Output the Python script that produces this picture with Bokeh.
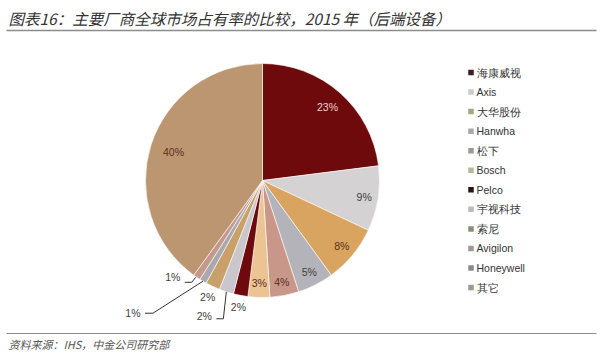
import math
from bokeh.plotting import figure
from bokeh.models import Range1d, Label, ColumnDataSource
from bokeh.core.properties import value
from bokeh.embed import file_html
from bokeh.resources import INLINE

# ---- data ----
companies = ["海康威视", "Axis", "大华股份", "Hanwha", "松下", "Bosch", "Pelco",
             "宇视科技", "索尼", "Avigilon", "Honeywell", "其它"]
shares = [23, 9, 8, 5, 4, 3, 2, 2, 2, 1, 1, 40]
pie_colors = ["#6E0A0C", "#D5D2D4", "#D9A45F", "#B5B3BA", "#C9978A", "#ECC393",
              "#6E0A0E", "#C9C7CB", "#C9A06A", "#ABA9B0", "#C5988C", "#BC9670"]
legend_colors = ["#3A1E22", "#CCCCCC", "#A4A684", "#AAAAAA", "#999999", "#B8B89E",
                 "#2A1418", "#BBBBBB", "#8E8C78", "#999999", "#8A8A8A", "#9A9A88"]
title_text = "图表16：主要厂商全球市场占有率的比较，2015 年（后端设备）"
source_text = "资料来源：IHS，中金公司研究部"

W, H = 600, 353
p = figure(width=W, height=H, output_backend="svg", toolbar_location=None,
           x_range=Range1d(0, W), y_range=Range1d(0, H), min_border=0,
           outline_line_color=None, background_fill_color="white", border_fill_color="white")
p.axis.visible = False
p.grid.visible = False

def Y(ypix):
    return H - ypix

cx, cy, R = 262, Y(180), 117
total = sum(shares)
starts, ends, mids = [], [], []
cum = 0
for s in shares:
    a0 = math.pi / 2 - 2 * math.pi * cum / total
    cum += s
    a1 = math.pi / 2 - 2 * math.pi * cum / total
    starts.append(a0); ends.append(a1); mids.append((a0 + a1) / 2)

src = ColumnDataSource(dict(start=starts, end=ends, color=pie_colors))
p.wedge(x=cx, y=cy, radius=R, start_angle="start", end_angle="end", direction="clock",
        fill_color="color", line_color="white", line_width=0.6, source=src)

labels = [f"{s}%" for s in shares]
lab_x, lab_y, lab_c = [], [], []
lead_xs, lead_ys = [], []
for i, (m, t) in enumerate(zip(mids, labels)):
    ex, ey = cx + R * math.cos(m), cy + R * math.sin(m)
    if i in (6, 8):  # outside, no leader
        lx, ly = cx + 1.10 * R * math.cos(m), cy + 1.10 * R * math.sin(m)
    elif i == 7:
        lx, ly = ex - 22, ey - 24
        lead_xs.append([ex, ex - 3, ex - 10]); lead_ys.append([ey, ey - 27, ey - 27])
    elif i == 9:
        lx, ly = ex - 70, ey - 32
        lead_xs.append([ex, ex - 50, ex - 58]); lead_ys.append([ey, ey - 32, ey - 32])
    elif i == 10:
        lx, ly = ex - 24, ey
        lead_xs.append([ex - 1, ex - 5, ex - 12]); lead_ys.append([ey, ey - 5, ey - 5])
    else:
        f = 0.84 if i == 0 else 0.88
        if i == 11:
            f = 0.80
        lx, ly = cx + f * R * math.cos(m), cy + f * R * math.sin(m)
    lab_x.append(lx); lab_y.append(ly)
    if i == 0:
        lab_c.append("#EFCFCF")
    elif i in (2, 4, 5, 11):
        lab_c.append("#5A2E1E")
    else:
        lab_c.append("#404040")

p.multi_line(xs=lead_xs, ys=lead_ys, line_color="#333333", line_width=1)
p.text(x=lab_x, y=lab_y, text=labels, text_color=lab_c, text_font=value("Liberation Sans"),
       text_font_size="10.5px", text_align="center", text_baseline="middle")

# legend
lx0, ly0, step = 470.5, 72, 19.55
leg_x = [lx0] * len(companies)
leg_y = [Y(ly0 + i * step) for i in range(len(companies))]
p.scatter(x=leg_x, y=leg_y, marker="square", size=5.5, fill_color=legend_colors, line_color=None)
p.text(x=[lx0 + 5.5] * len(companies), y=leg_y, text=companies, text_color="#333333",
       text_font=value("Liberation Sans"), text_font_size="10.5px",
       text_align="left", text_baseline="middle")

# title and source
p.add_layout(Label(x=8, y=Y(17), text=title_text, text_font="Noto Sans CJK SC",
                   text_font_style="italic", text_font_size="15.5px", text_color="#333333",
                   text_baseline="middle"))
p.segment(x0=[6], y0=[Y(30)], x1=[596], y1=[Y(30)], line_color="#8C8C8C", line_width=1.5)
p.segment(x0=[6], y0=[Y(333)], x1=[596], y1=[Y(333)], line_color="#8C8C8C", line_width=1.2)
p.add_layout(Label(x=8, y=Y(343), text=source_text, text_font="Noto Sans CJK SC",
                   text_font_style="italic", text_font_size="11px", text_color="#555555",
                   text_baseline="middle"))

open("out.html", "w").write(file_html(p, INLINE))
